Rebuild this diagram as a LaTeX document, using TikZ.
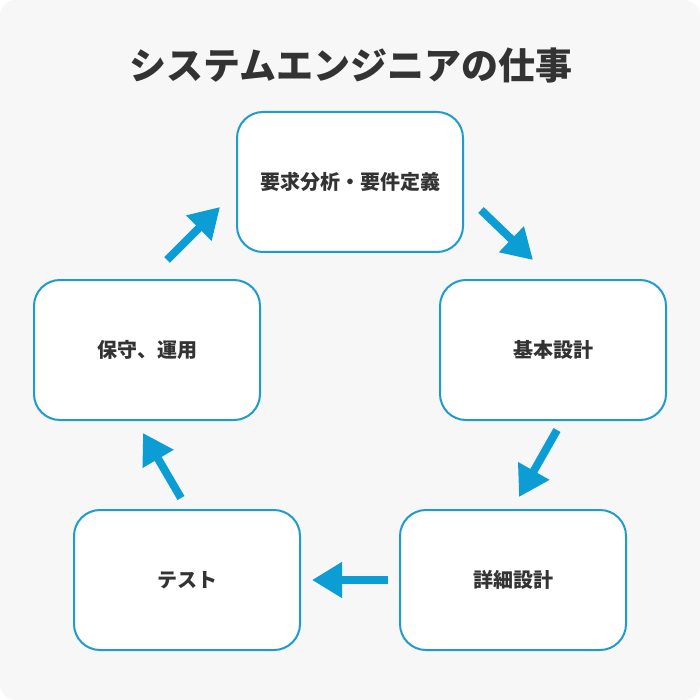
\documentclass[tikz,border=0pt]{standalone}
\usepackage{fontspec}
\newfontfamily\jp{Noto Sans CJK JP}
\usetikzlibrary{arrows.meta}
\definecolor{bgc}{HTML}{F7F7F7}
\definecolor{boxline}{HTML}{1E9BCF}
\definecolor{arrc}{HTML}{0B9DD3}
\definecolor{txt}{HTML}{333333}
\tikzset{
  stepbox/.style={draw=boxline, line width=2pt, fill=white, rounded corners=26pt,
    minimum width=226pt, minimum height=140pt, inner sep=0pt,
    font=\jp\bfseries\fontsize{20}{22}\selectfont, text=txt},
  flow/.style={draw=arrc, line width=8pt, line cap=butt,
    -{Triangle[length=30pt,width=34pt]}},
}
\begin{document}
\begin{tikzpicture}[x=1pt,y=-1pt]
\useasboundingbox (0,0) rectangle (700,700);
\fill[bgc, rounded corners=16pt] (0,0) rectangle (700,700);
\node[font=\jp\bfseries\fontsize{37}{40}\selectfont, text=txt] (title) at (351,65) {システムエンジニアの仕事};
\node[stepbox] (req) at (350,182) {要求分析・要件定義};
\node[stepbox] (basic) at (553,350) {基本設計};
\node[stepbox] (detail) at (513,580) {詳細設計};
\node[stepbox] (test) at (187,580) {テスト};
\node[stepbox] (ops) at (147,350) {保守、運用};
\coordinate (a1s) at (481,210);
\coordinate (a1e) at (533,260);
\coordinate (a2s) at (557,430);
\coordinate (a2e) at (519,497);
\coordinate (a4s) at (181,498);
\coordinate (a4e) at (143,433);
\coordinate (a5s) at (167,260);
\coordinate (a5e) at (220,207);
\draw[flow] (a1s) -- (a1e);
\draw[flow] (a2s) -- (a2e);
\draw[flow, shorten <=11pt, shorten >=11pt] (detail.west) -- (test.east);
\draw[flow] (a4s) -- (a4e);
\draw[flow] (a5s) -- (a5e);
\end{tikzpicture}
\end{document}
